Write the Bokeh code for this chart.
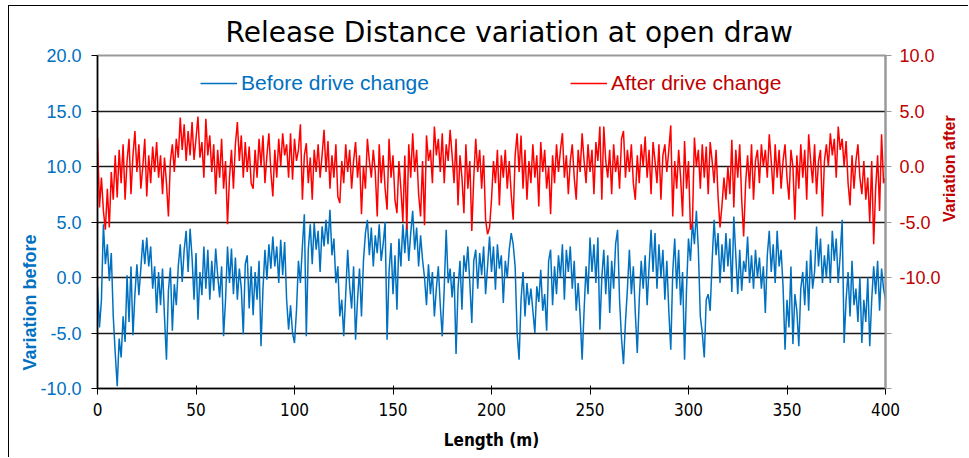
import math
from bokeh.plotting import figure
from bokeh.models import (Range1d, LinearAxis, FixedTicker, CustomJSTickFormatter,
                          Legend, LegendItem, ColumnDataSource, Title)
from bokeh.embed import file_html
from bokeh.resources import INLINE

# ---------------- data ----------------
length_m = list(range(0, 401))

before_change = [
    -0.8, -4.5, -2.0, 4.8, 1.2, 3.0, -0.3, 2.2, -3.5, -6.8,
    -9.8, -5.5, -7.2, -3.5, -5.8, 0.2, -4.0, 1.0, -5.2, -1.5,
    1.2, -1.6, 0.8, 3.4, 1.2, 3.6, 1.0, 2.8, -1.0, 1.0,
    -3.2, 0.5, -2.5, 0.8, -3.5, -7.4, -1.2, 0.9, -4.8, -0.6,
    -2.5, 1.0, 3.0, -0.4, 2.5, 4.2, 0.5, 4.4, 1.8, -2.0,
    2.2, -3.8, 0.5, -1.6, 2.8, -1.0, 2.5, -2.0, 1.5, -1.2,
    2.6, 0.2, -1.8, 1.0, -5.3, -2.0, 2.8, -0.5, 2.6, -1.5,
    1.8, -2.0, 0.8, -1.0, -5.1, 1.2, 2.0, -2.8, 1.0, -3.4,
    0.5, -2.0, 1.5, -6.2, -1.0, 2.5, -0.2, 3.0, 0.8, 3.7,
    1.0, 2.8, -0.5, 3.4, 0.2, 3.2, -2.0, -4.7, -2.5, -5.0,
    -5.9, -3.0, 1.5, -0.5, 2.8, 5.7, -5.3, 2.5, 4.8, 1.2,
    4.9, 2.5, 4.2, 0.5, 4.6, 2.8, 5.2, 3.0, 6.1, 2.0,
    3.5, -0.5, 1.0, -3.5, -2.0, -5.3, -1.5, 2.5, -0.8, -2.8,
    1.0, -5.6, -2.0, 0.8, -3.5, 1.5, 4.0, 5.2, 2.0, 4.5,
    1.0, 3.8, 2.2, 4.8, 1.5, 3.0, 5.0, -5.6, 0.5, 3.1,
    -1.5, 2.0, -2.9, 3.5, 1.0, 4.8, 2.2, 5.0, 1.5, 4.0,
    6.0, 2.5, 4.5, 1.0, 3.8, 1.6, 0.0, -2.5, 1.2, -1.5,
    0.5, -3.5, -1.0, 1.0, -2.5, -5.3, -1.0, 4.3, -0.5, 0.8,
    -1.8, 0.5, -6.9, -1.0, 1.5, -2.9, 2.0, 0.5, 2.8, -0.5,
    -4.1, 1.5, 2.5, -1.0, 2.2, 0.2, 2.8, -1.5, 1.0, 3.7,
    0.5, 2.8, -1.1, 3.0, 0.8, 2.0, -2.3, 1.5, 0.0, 2.5,
    4.0, 3.0, 1.0, -5.0, -7.4, -2.0, 0.5, -3.5, -0.5, -2.5,
    -1.0, -3.0, -5.0, -0.8, -2.2, 0.7, -3.0, -1.5, -4.8, 1.5,
    2.5, -2.5, 1.0, -1.5, 2.0, 0.0, 3.0, -2.0, 2.5, 0.5,
    2.8, -1.0, 1.5, -3.0, -0.5, -3.5, -7.4, -3.0, 1.0, -1.5,
    3.6, 0.5, 3.0, -0.5, 3.6, -4.7, 0.0, 2.5, -1.5, 2.0,
    -3.2, 1.5, -1.0, 3.0, 4.3, -2.0, -5.5, -7.8, -4.0, -1.0,
    2.5, -1.5, 1.0, -3.2, -6.8, -2.0, 1.5, -1.0, 2.0, -2.5,
    1.0, 4.3, 0.5, 4.0, -1.0, 3.0, 0.0, 2.5, -2.0, 1.5,
    -3.0, -6.5, 0.5, 3.5, -1.0, 2.5, -2.5, 0.5, -7.4, -1.0,
    3.5, 1.5, 5.0, 3.0, 6.0, 2.5, -3.5, -5.0, -7.2, -2.0,
    -1.5, -3.0, 1.5, 5.2, 2.0, 4.0, -0.5, 3.0, 0.5, 4.0,
    1.0, 3.5, -1.3, 5.5, 2.0, -1.5, 2.5, -1.2, 1.5, 0.5,
    3.7, -0.5, 2.0, -1.0, 2.5, 0.0, 1.8, -1.0, 1.0, -3.2,
    2.0, 4.2, 0.5, 3.0, -0.5, 4.2, 1.0, 2.5, -0.8, -6.5,
    -2.0, -4.5, 1.0, -6.0, -1.5, -3.0, -6.2, -1.0, 0.5, -2.5,
    1.5, -3.0, 2.5, -1.0, 0.5, 4.6, 1.0, 3.5, -0.5, 2.0,
    0.0, 3.0, -0.5, 4.2, 1.5, 3.5, -0.5, 2.0, 5.2, -5.9,
    -2.0, 0.5, -3.5, 1.5, -2.5, -1.0, -4.0, 0.0, -5.9, -2.0,
    -4.0, 0.0, -6.2, -2.0, 1.0, -1.5, 1.5, -3.0, 0.8, -1.0,
    -2.0,
]

after_change = [
    2.6, -3.7, -1.0, -4.0, -5.7, -2.0, -5.5, -0.5, -3.0, 1.0,
    -2.8, 1.5, -1.5, 2.0, -3.0, 0.5, 2.5, -2.5, 1.0, 3.2,
    -0.5, 2.0, -2.0, 0.0, 2.5, -2.7, 1.0, -1.5, 1.8, -0.5,
    2.2, -1.0, 1.0, -2.5, 0.8, -1.5, -4.5, 0.5, 2.0, -0.5,
    2.5, 0.8, 4.4, 1.5, 3.8, 0.5, 3.2, 1.0, 4.0, 0.6,
    2.5, 4.5, 0.8, 2.2, -1.0, 4.3, 1.0, 2.8, -0.5, 2.0,
    -2.5, 1.5, -1.0, 2.5, -2.0, 0.5, -5.2, -1.0, 1.5, -2.0,
    2.0, 4.0, 0.5, 2.8, -1.0, 2.2, -0.5, 1.8, -1.5, -2.0,
    1.5, -1.0, 2.5, 0.0, 2.8, -1.5, 1.0, 3.0, -0.5, -2.7,
    1.5, -1.0, 2.5, 0.0, 3.0, 1.0, 2.0, -1.0, 3.0, -1.2,
    2.5, 0.5, 1.5, 3.8, -3.0, 1.0, 2.1, -1.5, 0.8, -3.0,
    1.5, -0.5, 2.0, -1.0, 1.0, 3.3, -0.5, 2.3, -2.0, 1.0,
    -1.0, 2.0, -2.7, -3.3, 0.5, -1.5, 2.0, -0.5, 1.5, -2.0,
    0.5, 2.2, -1.0, 1.0, -4.3, 0.0, -2.0, 2.5, 0.5, -1.0,
    1.5, -0.5, -4.5, 2.0, -1.5, 1.0, -2.0, -3.9, 2.5, -1.0,
    1.0, -3.0, -4.2, 0.5, -2.0, -5.0, 1.0, -5.7, 2.0, -1.0,
    3.0, -0.5, 1.5, -2.5, -4.5, 0.5, -5.3, 2.8, 0.5, 1.5,
    -1.5, 3.6, 1.0, 2.5, -0.5, 3.0, -1.5, 2.0, 0.5, 3.3,
    1.0, -1.5, 2.5, -3.5, 1.0, -1.0, -4.2, 2.0, -2.0, 0.5,
    -5.8, -1.0, 2.5, -0.5, 1.5, -2.0, 1.0, -4.8, -6.1, -5.5,
    -3.0, 0.5, -1.5, 1.5, -3.5, 1.0, -1.0, 1.5, -2.0, 0.5,
    -2.5, -4.8, 1.0, 3.0, -0.5, 2.8, -2.0, 1.5, -3.0, 0.5,
    -1.5, 2.0, -1.0, 1.0, -3.6, 2.2, -0.5, 1.5, -2.0, 0.0,
    -4.3, 1.0, -1.5, 2.0, -0.5, 1.5, 3.0, -1.0, 1.0, -2.5,
    0.5, 2.0, -1.0, -3.0, 1.5, -0.5, 3.0, 0.5, -1.5, 2.0,
    -0.5, 1.5, -2.5, 2.2, 0.5, 3.6, -3.0, 3.6, 0.5, -1.0,
    1.5, -2.5, 2.0, -0.5, 1.0, -2.0, 2.5, 3.2, -1.0, 1.5,
    -0.5, 2.0, -1.5, -3.0, 1.0, -1.5, 2.0, 0.0, 2.7, -1.0,
    1.5, -2.5, 2.2, 0.5, -1.5, 2.0, -3.0, 1.0, 2.0, -0.5,
    1.5, 3.7, -4.5, 0.5, -2.0, 1.5, -1.0, -4.5, 2.3, -2.0,
    0.5, -5.7, -5.1, 2.6, 0.0, 1.5, -2.0, 2.0, -1.0, 1.8,
    -2.5, 2.2, 0.5, -1.5, 1.5, -2.7, -5.5, -3.5, -1.0, -3.0,
    0.0, -2.5, 2.4, -3.7, 1.5, -1.0, 2.0, -3.0, -6.3, -1.5,
    1.0, -2.0, 2.0, -3.0, 0.5, 1.5, -1.5, 2.0, 0.0, 1.5,
    -1.0, 2.9, 0.5, -2.5, 2.0, -1.0, 1.5, -2.0, 0.5, 2.0,
    -1.0, -3.0, 1.5, 0.0, -4.8, 1.0, -2.0, 2.0, -1.0, 1.5,
    -3.0, 2.9, 0.5, -1.5, 2.0, -2.5, 0.5, 1.5, -4.5, 0.5,
    2.0, 0.0, 3.0, 1.0, 2.5, -1.0, 3.6, 1.5, 2.5, 0.0,
    2.3, -1.5, -3.5, 1.0, -2.0, 0.5, 2.0, -1.0, -2.5, 0.5,
    -3.0, -1.0, -5.0, 0.5, -7.0, -2.0, 1.0, -4.0, 2.9, -1.5,
    -1.0,
]

x_ticks = [0, 50, 100, 150, 200, 250, 300, 350, 400]
left_ticks = [-10, -5, 0, 5, 10, 15, 20]
right_ticks = [-20, -15, -10, -5, 0, 5, 10]

title_text = "Release Distance variation at open draw"
x_title = "Length (m)"
left_title = "Variation before"
right_title = "Variation after"
label_before = "Before drive change"
label_after = "After drive change"

# ---------------- styling ----------------
BLUE = "#0070C0"
RED_LINE = "#FF0000"
RED_TEXT = "#C00000"
NARROW = "'DejaVu Sans Condensed', Roboto, sans-serif"
TITLE_FONT = "'DejaVu Sans', sans-serif"
SANS = "'Liberation Sans', Arial, sans-serif"

p = figure(width=960, height=452, output_backend="svg", toolbar_location=None,
           x_range=Range1d(0, 400), y_range=Range1d(-10, 20),
           min_border_left=88, min_border_right=79, min_border_top=49,
           min_border_bottom=70, margin=(5, 0, 0, 8))
p.styles = {"border-left": "1px solid #000000", "border-top": "1px solid #000000"}

p.extra_y_ranges = {"after": Range1d(-20, 10)}

p.title.text = title_text
p.title.text_font = TITLE_FONT
p.title.text_font_size = "28px"
p.title.text_font_style = "normal"
p.title.text_color = "#000000"
p.title.align = "left"
p.title.offset = 128
p.title.standoff = 14

p.background_fill_color = "white"
p.border_fill_color = "white"
p.outline_line_color = "#999999"
p.outline_line_width = 2

p.xgrid.visible = False
p.ygrid.ticker = FixedTicker(ticks=[-5, 0, 5, 10, 15])
p.ygrid.grid_line_color = "#1a1a1a"
p.ygrid.grid_line_width = 1.5

src = ColumnDataSource(dict(x=length_m, before=before_change, after=after_change))
r_before = p.line("x", "before", source=src, line_color=BLUE, line_width=1.5)
r_after = p.line("x", "after", source=src, line_color=RED_LINE, line_width=1.5,
                 y_range_name="after")


def try_set(obj, name, val):
    if name in obj.properties():
        setattr(obj, name, val)


# x axis
xa = p.xaxis[0]
xa.ticker = FixedTicker(ticks=x_ticks)
xa.axis_label = x_title
xa.axis_label_text_font = NARROW
xa.axis_label_text_font_style = "bold"
xa.axis_label_text_font_size = "17px"
xa.axis_label_text_color = "#000000"
xa.axis_label_standoff = 11
xa.major_label_text_font = NARROW
xa.major_label_text_font_size = "17px"
xa.major_label_text_color = "#000000"
xa.major_label_standoff = 8
xa.axis_line_color = "#000000"
xa.axis_line_width = 1.5
xa.major_tick_line_color = "#000000"
xa.major_tick_out = 6
xa.major_tick_in = 3
xa.minor_tick_line_color = None

# left axis
ya = p.yaxis[0]
ya.ticker = FixedTicker(ticks=left_ticks)
ya.formatter = CustomJSTickFormatter(code="return tick.toFixed(1);")
ya.major_label_text_font = SANS
ya.major_label_text_font_size = "18px"
ya.major_label_text_color = BLUE
ya.major_label_standoff = 10
ya.axis_line_color = "#000000"
ya.axis_line_width = 1.5
ya.major_tick_line_color = "#000000"
ya.major_tick_out = 6
ya.major_tick_in = 0
ya.minor_tick_line_color = None

# left axis title, set low along the axis as in the original
p.add_layout(Title(text=left_title, align="left", offset=18, standoff=-4,
                   text_font=SANS, text_font_style="bold", text_font_size="18px",
                   text_color=BLUE), "left")

# right axis
ra = LinearAxis(y_range_name="after")
ra.ticker = FixedTicker(ticks=right_ticks)
ra.formatter = CustomJSTickFormatter(code="return tick < -12 ? '' : tick.toFixed(1);")
ra.axis_label = right_title
ra.axis_label_text_font = SANS
ra.axis_label_text_font_style = "bold"
ra.axis_label_text_font_size = "16px"
ra.axis_label_text_color = RED_TEXT
ra.axis_label_standoff = 6
try_set(ra, "axis_label_orientation", math.pi / 2)
ra.major_label_text_font = SANS
ra.major_label_text_font_size = "18px"
ra.major_label_text_color = RED_TEXT
ra.major_label_standoff = 8
ra.axis_line_color = "#999999"
ra.axis_line_width = 2
ra.major_tick_line_color = "#999999"
ra.major_tick_out = 6
ra.major_tick_in = 0
ra.minor_tick_line_color = None
p.add_layout(ra, "right")

# legends (one per series so the text takes the series colour)
for rend, lab, col, loc in [(r_before, label_before, BLUE, (103, 293)),
                            (r_after, label_after, RED_TEXT, (473, 293))]:
    lg = Legend(items=[LegendItem(label=lab, renderers=[rend])], location=loc,
                orientation="horizontal", border_line_color=None,
                background_fill_alpha=0, padding=0, margin=0, spacing=0,
                glyph_width=37, glyph_height=20, label_height=20,
                label_standoff=4, label_text_font=SANS,
                label_text_font_size="21px", label_text_color=col)
    p.add_layout(lg, "center")

open("out.html", "w").write(file_html(p, INLINE))
